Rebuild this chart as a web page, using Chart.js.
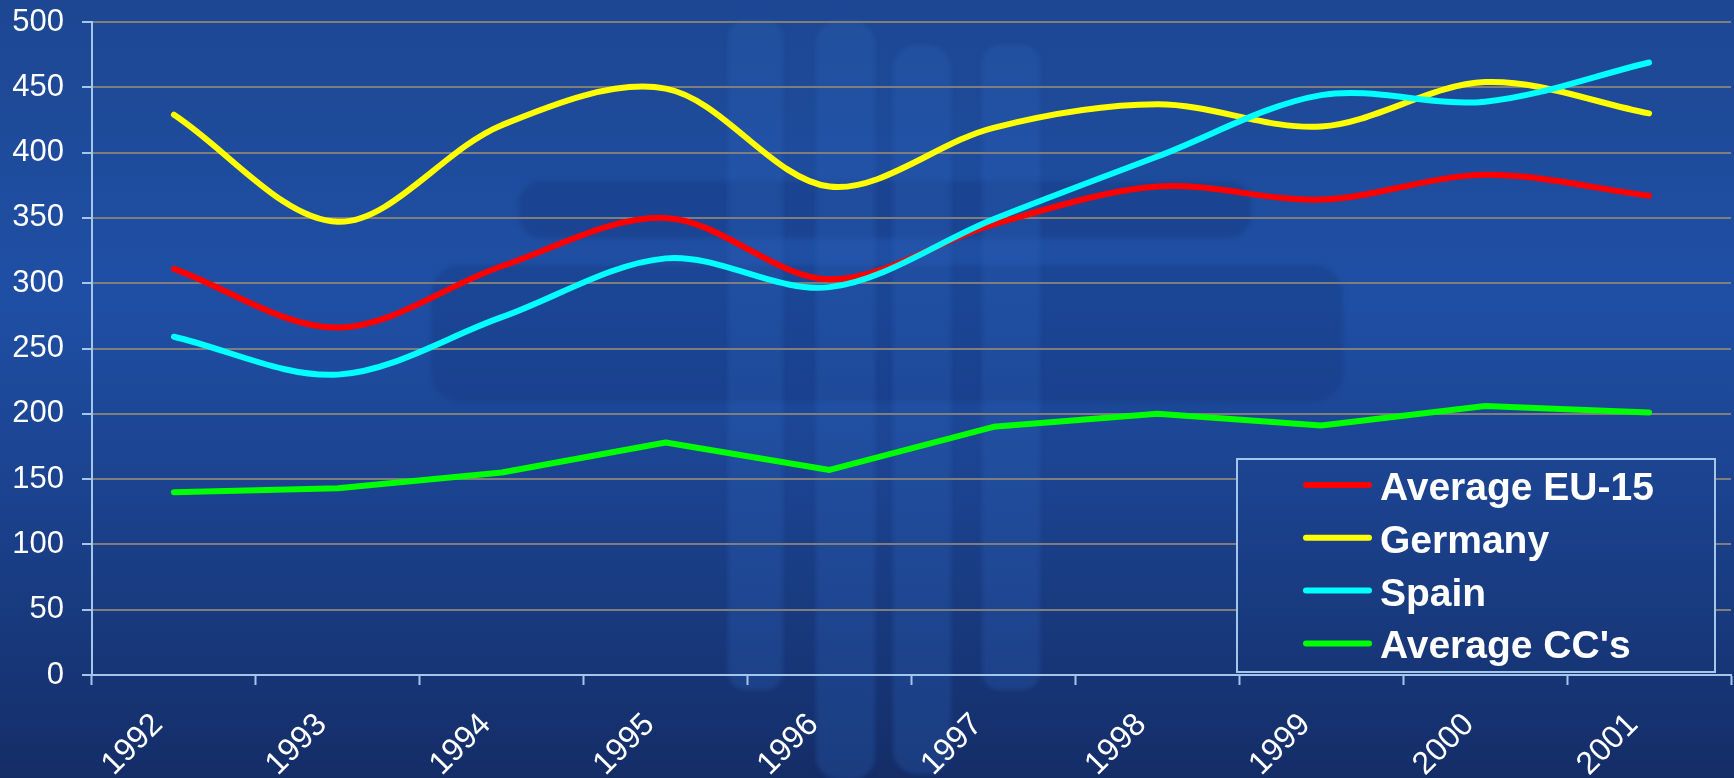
<!DOCTYPE html>
<html>
<head>
<meta charset="utf-8">
<script src="https://cdn.jsdelivr.net/npm/chart.js@4.4.1/dist/chart.umd.min.js"></script>
<style>
  html, body { margin: 0; padding: 0; background: #17387a; overflow: hidden; }
  #wrap { width: 1734px; height: 778px; }
</style>
</head>
<body>
<div id="wrap"><canvas id="chart" width="1734" height="778"></canvas></div>
<script>
const YEARS = ["1992", "1993", "1994", "1995", "1996", "1997", "1998", "1999", "2000", "2001"];
const EU15 = [311, 266, 313, 350, 303, 345, 374, 364, 383, 367];
const GERMANY = [429, 347, 421, 449, 374, 419, 437, 420, 454, 430];
const SPAIN = [259, 230, 274, 319, 297, 349, 397, 444, 439, 469];
const CCS = [140, 143, 155, 178, 157, 190, 200, 191, 206, 201];
const Y_MIN = 0;
const Y_MAX = 500;
const Y_STEP = 50;

const AXIS_BLUE = "#a3c6ea";
const GRID_GREY = "#7e7e7e";
const FONT = "'Liberation Sans', Arial, sans-serif";

function makeGradient(ctx, h) {
  const g = ctx.createLinearGradient(0, 0, 0, h);
  g.addColorStop(0, "#1d4792");
  g.addColorStop(0.38, "#1f4fa5");
  g.addColorStop(0.7, "#1a3f88");
  g.addColorStop(1, "#142d67");
  return g;
}

function roundRect(ctx, x, y, w, h, r) {
  ctx.beginPath();
  ctx.roundRect(x, y, w, h, r);
  ctx.fill();
}

// page background + faint logo watermark
const backdrop = {
  id: "backdrop",
  beforeDraw(chart) {
    const { ctx, width, height } = chart;
    ctx.save();
    ctx.fillStyle = makeGradient(ctx, height);
    ctx.fillRect(0, 0, width, height);

    ctx.filter = "blur(2px)";
    ctx.fillStyle = "rgba(18,45,110,0.28)";
    roundRect(ctx, 519, 181, 732, 57, 22);
    roundRect(ctx, 431, 265, 912, 137, 30);

    ctx.fillStyle = "rgba(45,100,190,0.28)";
    roundRect(ctx, 728, 20, 55, 670, 18);
    roundRect(ctx, 982, 45, 58, 645, 18);
    roundRect(ctx, 816, 20, 59, 760, 24);
    roundRect(ctx, 893, 45, 58, 729, 24);
    ctx.restore();
  }
};

// boxed legend sitting inside the plot, bottom right
const boxLegend = {
  id: "boxLegend",
  afterDraw(chart, args, opts) {
    const { ctx, chartArea } = chart;
    const right = chartArea.right - opts.marginRight;
    const bottom = chartArea.bottom - opts.marginBottom;
    const left = right - opts.width;
    const top = bottom - opts.height;
    ctx.save();
    ctx.fillStyle = makeGradient(ctx, chart.height);
    ctx.fillRect(left, top, opts.width, opts.height);
    ctx.strokeStyle = AXIS_BLUE;
    ctx.lineWidth = 2;
    ctx.strokeRect(left, top, opts.width, opts.height);

    chart.data.datasets.forEach((ds, i) => {
      const y = top + opts.firstRow + i * opts.rowGap;
      ctx.strokeStyle = ds.borderColor;
      ctx.lineWidth = 6;
      ctx.lineCap = "round";
      ctx.beginPath();
      ctx.moveTo(left + 69, y);
      ctx.lineTo(left + 132, y);
      ctx.stroke();
      ctx.fillStyle = "#ffffff";
      ctx.font = `bold 39px ${FONT}`;
      ctx.textBaseline = "alphabetic";
      ctx.fillText(ds.label, left + 143, y + 15);
    });
    ctx.restore();
  }
};

function series(label, data, color, tension, order) {
  return {
    label,
    data,
    borderColor: color,
    backgroundColor: color,
    borderWidth: 6,
    borderCapStyle: "round",
    borderJoinStyle: "round",
    pointRadius: 0,
    pointHoverRadius: 0,
    tension,
    order,
    fill: false
  };
}

const chart = new Chart(document.getElementById("chart"), {
  type: "line",
  data: {
    labels: YEARS,
    datasets: [
      series("Average EU-15", EU15, "#ff0000", 0.33, 4),
      series("Germany", GERMANY, "#ffff00", 0.33, 3),
      series("Spain", SPAIN, "#00ffff", 0.33, 2),
      series("Average CC's", CCS, "#00ff00", 0, 1)
    ]
  },
  options: {
    responsive: false,
    animation: false,
    devicePixelRatio: 1,
    layout: { padding: { top: 22, right: 3, left: 0, bottom: 0 } },
    plugins: {
      legend: { display: false },
      tooltip: { enabled: false },
      boxLegend: {
        marginRight: 16,
        marginBottom: 3,
        width: 478,
        height: 213,
        firstRow: 26,
        rowGap: 52.8
      }
    },
    scales: {
      x: {
        offset: true,
        grid: {
          offset: true,
          drawOnChartArea: false,
          drawTicks: true,
          tickLength: 10,
          tickColor: AXIS_BLUE,
          tickWidth: 2
        },
        border: { display: true, color: AXIS_BLUE, width: 2 },
        ticks: {
          color: "#ffffff",
          font: { family: FONT, size: 32 },
          minRotation: 45,
          maxRotation: 45,
          autoSkip: false,
          padding: 21,
          labelOffset: -16
        },
        afterFit(scale) {
          scale.height = 103;
          scale.paddingLeft = 0;
          scale.paddingRight = 0;
        }
      },
      y: {
        min: Y_MIN,
        max: Y_MAX,
        grid: {
          color: GRID_GREY,
          lineWidth: 2,
          drawTicks: true,
          tickLength: 10,
          tickColor: AXIS_BLUE,
          tickWidth: 2
        },
        border: { display: true, color: AXIS_BLUE, width: 2 },
        ticks: {
          stepSize: Y_STEP,
          color: "#ffffff",
          font: { family: FONT, size: 31 },
          padding: 18
        },
        afterFit(scale) {
          scale.width = 92;
          scale.paddingTop = 0;
          scale.paddingBottom = 0;
        }
      }
    }
  },
  plugins: [backdrop, boxLegend]
});
</script>
</body>
</html>
